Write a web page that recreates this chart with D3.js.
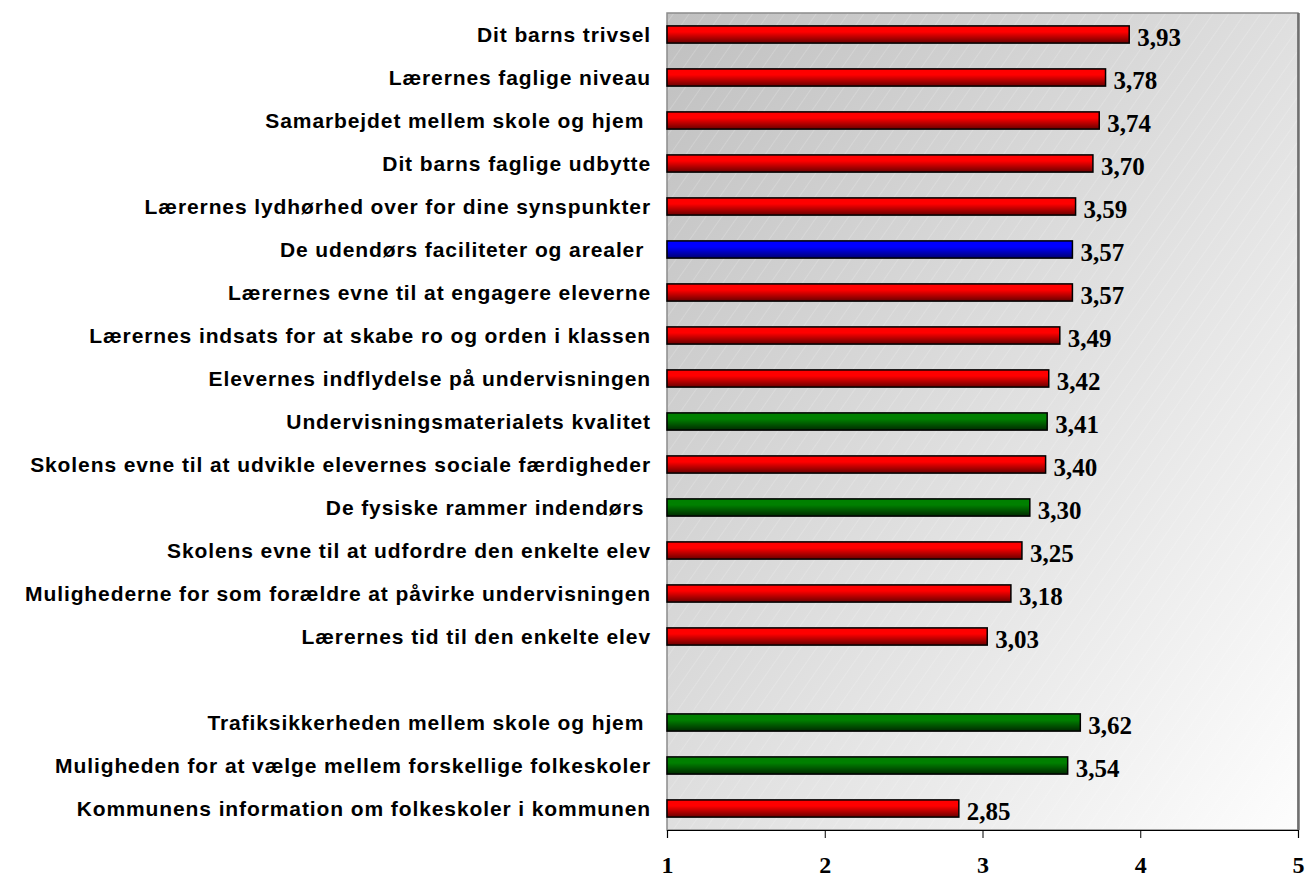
<!DOCTYPE html>
<meta charset="utf-8"/>
<head>
<style>
  body { margin:0; background:#fff; }
  .cat { font-family: "Liberation Sans", Arial, sans-serif; font-weight:bold; font-size:21px; letter-spacing:0.9px; white-space:pre; }
  .val { font-family: "Liberation Serif", "Times New Roman", serif; font-weight:bold; font-size:25px; }
  .xaxis text { font-family: "Liberation Serif", "Times New Roman", serif; font-weight:bold; font-size:24px; }
</style>
<script src="https://d3js.org/d3.v7.min.js" charset="utf-8"></script>
</head>
<body>
<script>

  // data, "" is the empty gap row
  var categories = ["Dit barns trivsel", "Lærernes faglige niveau", "Samarbejdet mellem skole og hjem ",
    "Dit barns faglige udbytte", "Lærernes lydhørhed over for dine synspunkter", "De udendørs faciliteter og arealer ",
    "Lærernes evne til at engagere eleverne", "Lærernes indsats for at skabe ro og orden i klassen",
    "Elevernes indflydelse på undervisningen", "Undervisningsmaterialets kvalitet",
    "Skolens evne til at udvikle elevernes sociale færdigheder", "De fysiske rammer indendørs ",
    "Skolens evne til at udfordre den enkelte elev", "Mulighederne for som forældre at påvirke undervisningen",
    "Lærernes tid til den enkelte elev", "",
    "Trafiksikkerheden mellem skole og hjem ", "Muligheden for at vælge mellem forskellige folkeskoler",
    "Kommunens information om folkeskoler i kommunen"];
  var values = [3.93, 3.78, 3.74, 3.70, 3.59, 3.57, 3.57, 3.49, 3.42, 3.41, 3.40, 3.30, 3.25, 3.18, 3.03, null, 3.62, 3.54, 2.85];
  var groups = ["red","red","red","red","red","blue","red","red","red","green","red","green","red","red","red", null, "green","green","red"];
  var tickValues = [1, 2, 3, 4, 5];

  var width = 1305, height = 878;
  var plotL = 667, plotR = 1298, plotT = 13, plotB = 830;

  var svg = d3.select("body").append("svg")
    .attr("width", width)
    .attr("height", height);

  var defs = svg.append("defs");

  // plot background: gray top-left fading to white bottom-right
  var bg = defs.append("linearGradient").attr("id", "bg")
    .attr("x1", "0%").attr("y1", "0%").attr("x2", "100%").attr("y2", "100%");
  bg.append("stop").attr("offset", "0%").attr("stop-color", "#c0c0c0");
  bg.append("stop").attr("offset", "55%").attr("stop-color", "#e2e2e2");
  bg.append("stop").attr("offset", "100%").attr("stop-color", "#fdfdfd");

  var hatch = defs.append("pattern").attr("id", "hatch")
    .attr("patternUnits", "userSpaceOnUse")
    .attr("width", 13).attr("height", 13)
    .attr("patternTransform", "rotate(35)");
  hatch.append("line").attr("x1", 0).attr("y1", 0).attr("x2", 0).attr("y2", 13)
    .attr("stroke", "#ffffff").attr("stroke-opacity", 0.35).attr("stroke-width", 1);

  var fills = { red: ["#ff0000", "#6a0000"], green: ["#008000", "#002a00"], blue: ["#0000ff", "#000070"] };
  Object.keys(fills).forEach(function(k){
    var g = defs.append("linearGradient").attr("id", "g-" + k)
      .attr("x1", 0).attr("y1", 0).attr("x2", 0).attr("y2", 1);
    g.append("stop").attr("offset", "0%").attr("stop-color", fills[k][0]);
    g.append("stop").attr("offset", "35%").attr("stop-color", fills[k][0]);
    g.append("stop").attr("offset", "100%").attr("stop-color", fills[k][1]);
  });

  var x = d3.scaleLinear().domain([1, 5]).range([plotL, plotR]);
  var y = d3.scaleBand().domain(d3.range(categories.length))
    .range([plotT, plotB]).paddingInner(0.6).paddingOuter(0.3);

  svg.append("rect").attr("x", plotL).attr("y", plotT)
    .attr("width", plotR - plotL).attr("height", plotB - plotT)
    .attr("fill", "url(#bg)");
  svg.append("rect").attr("x", plotL).attr("y", plotT)
    .attr("width", plotR - plotL).attr("height", plotB - plotT)
    .attr("fill", "url(#hatch)").attr("stroke", "#8c8c8c").attr("stroke-width", 1.5);
  // darker right edge
  svg.append("line").attr("x1", plotR + 0.5).attr("x2", plotR + 0.5)
    .attr("y1", plotT).attr("y2", plotB)
    .attr("stroke", "#707070").attr("stroke-width", 2.5);

  var rows = d3.range(categories.length).filter(function(i){ return values[i] != null; });

  svg.selectAll(".bar").data(rows).enter().append("rect")
    .attr("class", "bar")
    .attr("x", x(1))
    .attr("y", function(i){ return y(i); })
    .attr("width", function(i){ return x(values[i]) - x(1); })
    .attr("height", y.bandwidth())
    .attr("fill", function(i){ return "url(#g-" + groups[i] + ")"; })
    .attr("stroke", "#000").attr("stroke-width", 1.5);

  svg.selectAll(".val").data(rows).enter().append("text")
    .attr("class", "val")
    .attr("x", function(i){ return x(values[i]) + 8; })
    .attr("y", function(i){ return y(i) + y.bandwidth() / 2 + 11; })
    .text(function(i){ return values[i].toFixed(2).replace(".", ","); });

  svg.selectAll(".cat").data(rows).enter().append("text")
    .attr("class", "cat")
    .attr("text-anchor", "end")
    .attr("x", 651)
    .attr("y", function(i){ return y(i) + y.bandwidth() / 2 + 7; })
    .text(function(i){ return categories[i]; });

  var axis = svg.append("g")
    .attr("class", "xaxis")
    .attr("transform", "translate(0," + plotB + ")")
    .call(d3.axisBottom(x).tickValues(tickValues).tickSize(8).tickPadding(18).tickFormat(d3.format("d")));
  axis.select(".domain").attr("stroke", "#000").attr("stroke-width", 1.2);
  axis.selectAll("line").attr("stroke", "#000");
  axis.selectAll("text").attr("fill", "#000");

</script>
</body>
</html>
